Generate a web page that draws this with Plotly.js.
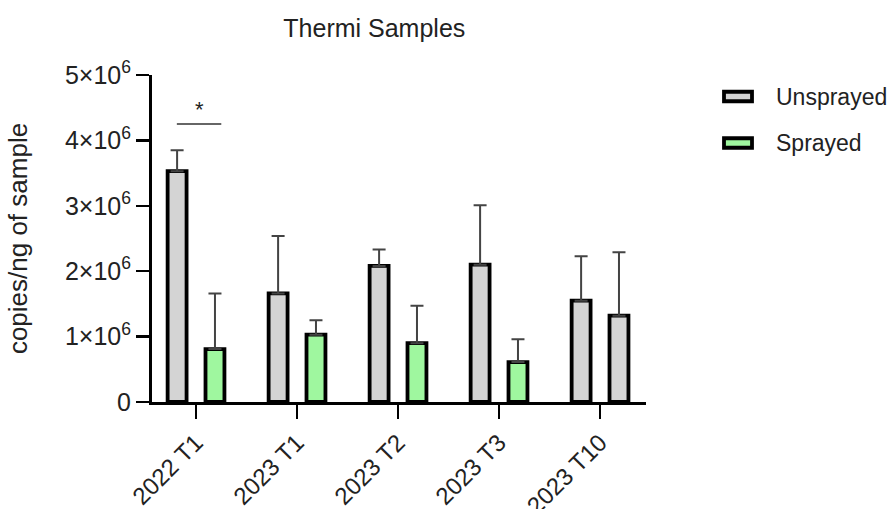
<!DOCTYPE html>
<html>
<head>
<meta charset="utf-8">
<script src="https://cdn.plot.ly/plotly-3.0.1.min.js"></script>
<style>html,body{margin:0;padding:0;background:#fff;}#chart{width:891px;height:509px;}</style>
</head>
<body>
<div id="chart"></div>
<script>
var categories = ["2022 T1", "2023 T1", "2023 T2", "2023 T3", "2023 T10"];
var seriesNames = ["Unsprayed", "Sprayed"];
var unsprayed = [3530000, 1660000, 2080000, 2100000, 1550000];
var unsprayedErr = [320000, 880000, 250000, 910000, 680000];
var sprayed = [810000, 1030000, 900000, 610000, 1320000];
var sprayedErr = [850000, 220000, 570000, 350000, 970000];
var yTickVals = [0, 1000000, 2000000, 3000000, 4000000, 5000000];
var yTickText = ["0", "1×10<sup>6</sup>", "2×10<sup>6</sup>", "3×10<sup>6</sup>", "4×10<sup>6</sup>", "5×10<sup>6</sup>"];

var grayFill = "#d4d4d4";
var greenFill = "#9ff79f";
var sprayedColors = [greenFill, greenFill, greenFill, greenFill, grayFill];
var FONT = "Liberation Sans, Arial, sans-serif";

var traces = [
  {
    type: "bar", name: seriesNames[0], x: categories, y: unsprayed,
    marker: {color: grayFill, line: {color: "#000", width: 3.8}},
    error_y: {type: "data", array: unsprayedErr, arrayminus: unsprayedErr.map(function(){return 0;}), symmetric: false, color: "#444", thickness: 2, width: 6.5},
    showlegend: false
  },
  {
    type: "bar", name: seriesNames[1], x: categories, y: sprayed,
    marker: {color: sprayedColors, line: {color: "#000", width: 3.8}},
    error_y: {type: "data", array: sprayedErr, arrayminus: sprayedErr.map(function(){return 0;}), symmetric: false, color: "#444", thickness: 2, width: 6.5},
    showlegend: false
  }
];

var PL = 152, PW = 494, PT = 75, PH = 327;
function px2x(p){ return (p - PL) / PW; }
function px2y(p){ return (PT + PH - p) / PH; }

var legendColors = [grayFill, greenFill];
var legendY = [96.5, 143];
var shapes = [
  {type: "line", xref: "x", yref: "y", x0: -0.19, x1: 0.25, y0: 4250000, y1: 4250000, line: {color: "#333", width: 1.5}}
];
var annotations = [
  {xref: "x", yref: "y", x: 0.03, y: 4480000, text: "*", showarrow: false, font: {family: FONT, size: 22, color: "#222"}}
];
for (var i = 0; i < seriesNames.length; i++) {
  shapes.push({type: "rect", xref: "paper", yref: "paper",
    x0: px2x(724), x1: px2x(752), y0: px2y(legendY[i] + 4.75), y1: px2y(legendY[i] - 4.75),
    fillcolor: legendColors[i], line: {color: "#000", width: 3.8}});
  annotations.push({xref: "paper", yref: "paper", x: px2x(774), y: px2y(legendY[i]),
    xanchor: "left", yanchor: "middle", text: seriesNames[i], showarrow: false,
    font: {family: FONT, size: 23, color: "#222"}});
}

var layout = {
  width: 891, height: 509,
  margin: {l: PL, r: 891 - PL - PW, t: PT, b: 509 - PT - PH, autoexpand: false},
  paper_bgcolor: "#fff", plot_bgcolor: "#fff",
  font: {family: FONT, color: "#222"},
  title: {text: "Thermi Samples", x: 401 / 891, xanchor: "center", xref: "paper", y: 1 - 28 / 509, yanchor: "middle", yref: "container", font: {family: FONT, size: 25, color: "#222"}},
  barmode: "group", bargap: 0.25, bargroupgap: 0.5,
  showlegend: false,
  xaxis: {
    type: "category", range: [-0.436, 4.455], showgrid: false, zeroline: false,
    showline: true, linecolor: "#000", linewidth: 3,
    ticks: "outside", ticklen: 14, tickwidth: 2.5, tickcolor: "#000",
    tickangle: -45, tickfont: {family: FONT, size: 24, color: "#222"}, automargin: false
  },
  yaxis: {
    range: [0, 5000000], showgrid: false, zeroline: false,
    showline: true, linecolor: "#000", linewidth: 3,
    ticks: "outside", ticklen: 13, tickwidth: 2.5, tickcolor: "#000",
    tickmode: "array", tickvals: yTickVals, ticktext: yTickText,
    tickfont: {family: FONT, size: 25, color: "#222"}, automargin: false,
    title: {text: "copies/ng of sample", font: {family: FONT, size: 26, color: "#222"}, standoff: 30}
  },
  shapes: shapes,
  annotations: annotations
};

Plotly.newPlot("chart", traces, layout, {displayModeBar: false, staticPlot: true});
</script>
</body>
</html>
